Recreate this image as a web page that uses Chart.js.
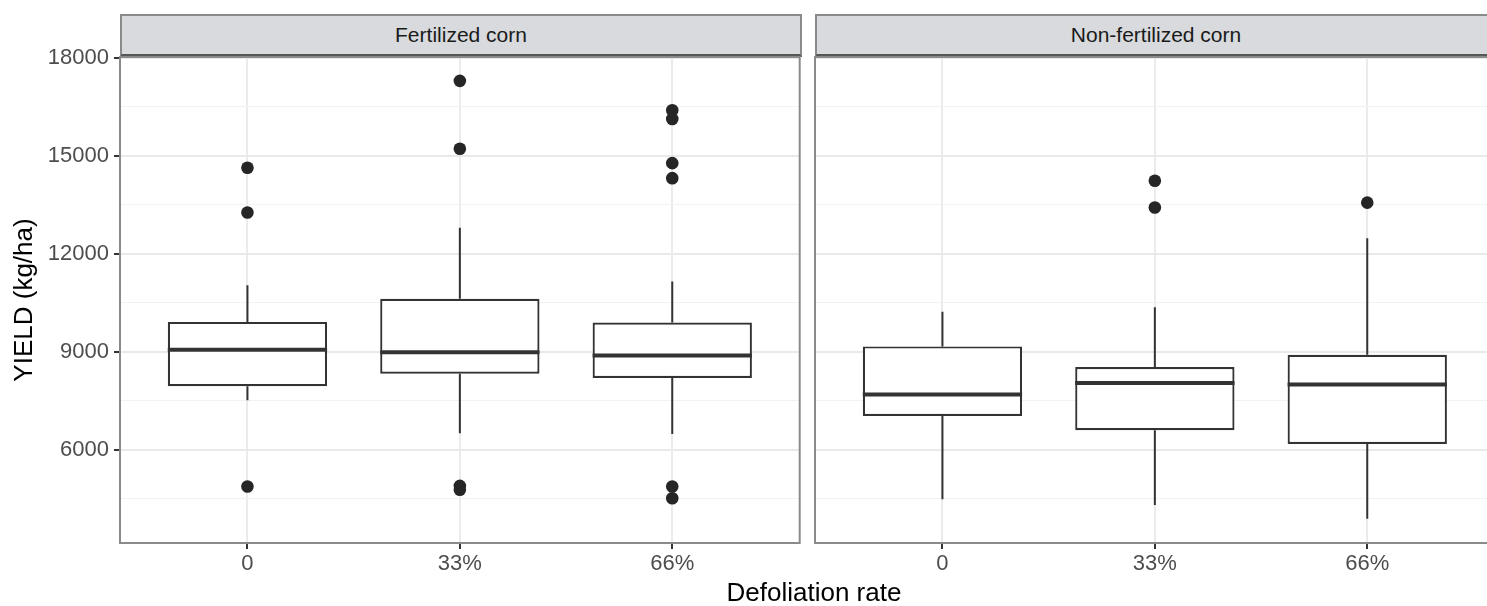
<!DOCTYPE html>
<html>
<head>
<meta charset="utf-8">
<script src="https://cdn.jsdelivr.net/npm/chart.js@4.4.1/dist/chart.umd.min.js"></script>
<style>
  body { margin: 0; width: 1487px; height: 606px; overflow: hidden; position: relative; background: #fff;
         font-family: "Liberation Sans", Arial, sans-serif; }
  .strip { position: absolute; top: 14px; height: 43px; width: 682px; box-sizing: border-box;
           background: #d8dadd; border: 2px solid #8a8a8a; border-bottom: 3px solid #565656;
           font-size: 21px; color: #1a1a1a; text-align: center; line-height: 38px; }
  .wrap { position: absolute; top: 27px; }
  canvas { display: block; }
  #xtitle { position: absolute; left: 564px; width: 500px; top: 577px; text-align: center;
            font-size: 26px; color: #000; }
</style>
</head>
<body>
<div class="strip" style="left:120px">Fertilized corn</div>
<div class="strip" style="left:815px">Non-fertilized corn</div>
<div class="wrap" style="left:0px"><canvas id="leftChart" width="806" height="561"></canvas></div>
<div class="wrap" style="left:805px"><canvas id="rightChart" width="696" height="561"></canvas></div>
<div id="xtitle">Defoliation rate</div>
<script>
// categorías del eje x
var categories = ['0', '33%', '66%'];
var yMin = 3150;
var yMax = 18030;
// líneas de la rejilla y etiquetas del eje y
var yTickValues = [4500, 6000, 7500, 9000, 10500, 12000, 13500, 15000, 16500, 18000];
var yTickLabels = ['', '6000', '', '9000', '', '12000', '', '15000', '', '18000'];

// Maíz fertilizado: bigotes, cuartiles, mediana
var fertLow = [7520, 6510, 6490];
var fertQ1 = [7950, 8330, 8200];
var fertMedian = [9070, 8990, 8890];
var fertQ3 = [9920, 10630, 9900];
var fertHigh = [11040, 12800, 11160];
var fertOutliers = [[14640, 13270, 4880], [17300, 15220, 4900, 4780], [16400, 16130, 14780, 14320, 4880, 4520]];

// Maíz no fertilizado
var nonfertLow = [4490, 4310, 3890];
var nonfertQ1 = [7040, 6600, 6180];
var nonfertMedian = [7700, 8050, 8000];
var nonfertQ3 = [9170, 8540, 8910];
var nonfertHigh = [10230, 10370, 12480];
var nonfertOutliers = [[], [14240, 13420], [13570]];

Chart.defaults.font.family = '"Liberation Sans", Arial, sans-serif';

var lineColor = '#333333';

function isMajor(c) {
    return c.tick && yTickLabels[yTickValues.indexOf(c.tick.value)] !== '';
}

// bigotes y mediana sobre las cajas
var boxWhiskers = {
    id: 'boxWhiskers',
    afterDatasetDraw: function(chart, args, opts) {
        if (args.index !== 0) return;
        var ctx = chart.ctx;
        var y = chart.scales.y;
        var meta = chart.getDatasetMeta(0);
        ctx.save();
        ctx.strokeStyle = lineColor;
        meta.data.forEach(function(bar, i) {
            var x = bar.x;
            ctx.lineWidth = 2;
            ctx.beginPath();
            ctx.moveTo(x, y.getPixelForValue(opts.high[i]));
            ctx.lineTo(x, y.getPixelForValue(opts.q3[i]));
            ctx.moveTo(x, y.getPixelForValue(opts.q1[i]));
            ctx.lineTo(x, y.getPixelForValue(opts.low[i]));
            ctx.stroke();
            ctx.lineWidth = 4;
            ctx.beginPath();
            var ym = y.getPixelForValue(opts.median[i]);
            ctx.moveTo(x - bar.width / 2, ym);
            ctx.lineTo(x + bar.width / 2, ym);
            ctx.stroke();
        });
        ctx.restore();
    }
};

// borde del panel
var panelBorder = {
    id: 'panelBorder',
    afterDraw: function(chart) {
        var a = chart.chartArea;
        var ctx = chart.ctx;
        ctx.save();
        ctx.strokeStyle = '#8a8a8a';
        ctx.lineWidth = 2;
        ctx.strokeRect(a.left, a.top, a.right - a.left, a.bottom - a.top);
        ctx.restore();
    }
};

function makePanel(canvasId, q1, median, q3, low, high, outliers, showY) {
    var boxes = categories.map(function(c, i) { return {x: i, y: [q1[i], q3[i]]}; });
    var points = [];
    outliers.forEach(function(list, i) {
        list.forEach(function(v) { points.push({x: i, y: v}); });
    });
    var ctx = document.getElementById(canvasId).getContext('2d');
    return new Chart(ctx, {
        type: 'bar',
        data: {
            datasets: [{
                type: 'bar',
                data: boxes,
                backgroundColor: '#ffffff',
                borderColor: lineColor,
                borderWidth: 2.2,
                borderSkipped: false,
                barPercentage: 0.75,
                categoryPercentage: 1,
                grouped: false
            }, {
                type: 'scatter',
                data: points,
                backgroundColor: '#262626',
                borderColor: '#262626',
                pointRadius: 6.3,
                pointBorderWidth: 0
            }]
        },
        options: {
            responsive: false,
            animation: false,
            layout: { padding: { top: 30, right: 2, left: 0, bottom: 0 } },
            plugins: {
                legend: { display: false },
                tooltip: { enabled: false },
                boxWhiskers: { q1: q1, median: median, q3: q3, low: low, high: high }
            },
            scales: {
                x: {
                    type: 'linear',
                    min: -0.6,
                    max: 2.6,
                    offset: false,
                    border: { display: false },
                    grid: {
                        offset: false,
                        color: '#ebebeb',
                        lineWidth: 2,
                        tickLength: 6,
                        tickColor: lineColor,
                        tickWidth: 2
                    },
                    ticks: {
                        color: '#4d4d4d',
                        font: { size: 22 },
                        padding: 2,
                        maxRotation: 0,
                        callback: function(v) { return categories[v]; }
                    },
                    afterBuildTicks: function(scale) {
                        scale.ticks = categories.map(function(c, i) { return {value: i}; });
                    },
                    afterFit: function(scale) {
                        scale.height = 45;
                        scale.paddingLeft = 0;
                        scale.paddingRight = 0;
                    }
                },
                y: {
                    type: 'linear',
                    min: yMin,
                    max: yMax,
                    border: { display: false },
                    grid: {
                        drawTicks: showY,
                        tickLength: 6,
                        color: function(c) { return isMajor(c) ? '#e9e9e9' : '#f2f2f2'; },
                        lineWidth: function(c) { return isMajor(c) ? 2 : 1; },
                        tickColor: function(c) { return isMajor(c) ? lineColor : 'rgba(0,0,0,0)'; },
                        tickWidth: 2
                    },
                    ticks: {
                        display: showY,
                        autoSkip: false,
                        color: '#4d4d4d',
                        font: { size: 22 },
                        padding: 5,
                        callback: function(v) { return yTickLabels[yTickValues.indexOf(v)]; }
                    },
                    afterBuildTicks: function(scale) {
                        scale.ticks = yTickValues.map(function(v) { return {value: v}; });
                    },
                    title: {
                        display: showY,
                        text: 'YIELD (kg/ha)',
                        color: '#000',
                        font: { size: 26 },
                        padding: { top: 9, bottom: 0 }
                    },
                    afterFit: function(scale) {
                        scale.width = showY ? 120 : 10;
                        scale.paddingTop = 0;
                        scale.paddingBottom = 0;
                    }
                }
            }
        },
        plugins: [boxWhiskers, panelBorder]
    });
}

makePanel('leftChart', fertQ1, fertMedian, fertQ3, fertLow, fertHigh, fertOutliers, true);
makePanel('rightChart', nonfertQ1, nonfertMedian, nonfertQ3, nonfertLow, nonfertHigh, nonfertOutliers, false);
</script>
</body>
</html>
